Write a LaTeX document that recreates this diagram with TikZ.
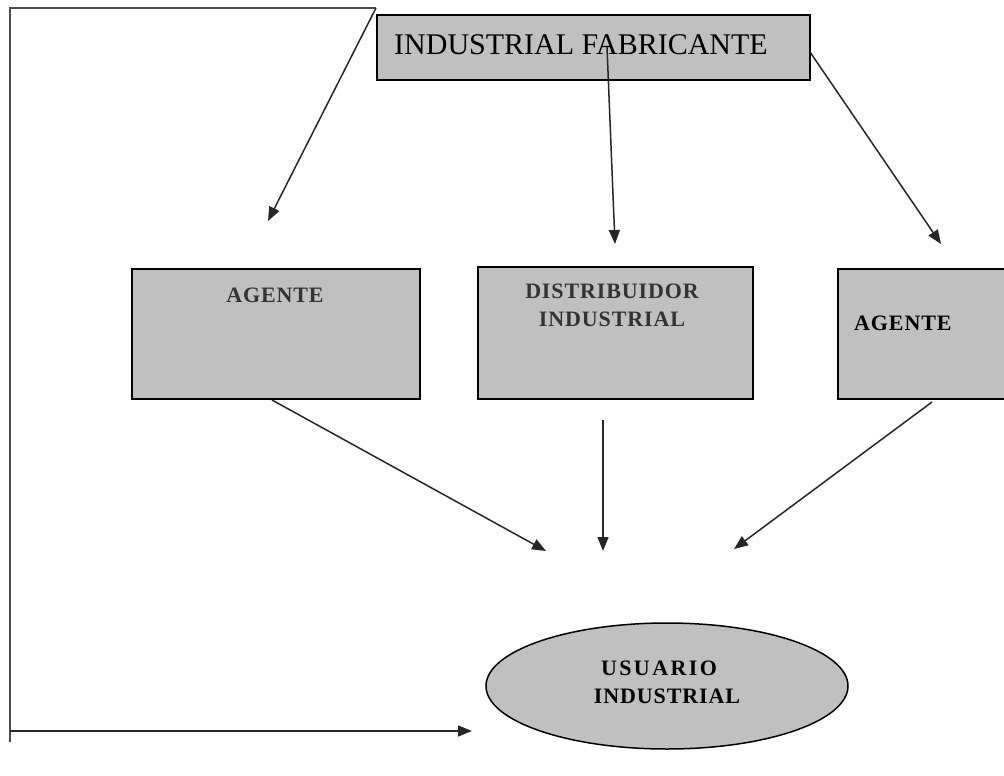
\documentclass[tikz,border=0pt]{standalone}
\usepackage{fontspec}
\setmainfont{Liberation Serif}
\newfontfamily\boxfont[LetterSpace=4]{Liberation Serif}
\newfontfamily\wideboxfont[LetterSpace=11]{Liberation Serif}
\usetikzlibrary{arrows.meta,shapes.geometric}
\definecolor{boxgray}{HTML}{C0C0C0}
\definecolor{inkgray}{HTML}{333333}
\tikzset{
  block/.style={draw=black, line width=1.5pt, fill=boxgray, rectangle, inner sep=0pt},
  blocktext/.style={font=\boxfont\bfseries\fontsize{22}{28}\selectfont, align=center, inner sep=0pt},
  flow/.style={draw=black!85, line width=1.5pt, -{Triangle[length=14pt,width=11pt]}},
  frame/.style={draw=black!70, line width=1.7pt}
}
\begin{document}
\begin{tikzpicture}[x=1pt,y=-1pt]
\useasboundingbox (0,0) rectangle (1004,776);
\clip (0,0) rectangle (1004,776);

% boxes
\node[block, minimum width=433pt, minimum height=65pt] (fab) at (593.5,47.5) {};
\node[anchor=west, inner sep=0pt, font=\fontsize{30}{34}\selectfont] (fabt) at (394,45) {INDUSTRIAL FABRICANTE};

\node[block, minimum width=288pt, minimum height=130pt] (agl) at (276,334) {};
\node[blocktext, text=inkgray] (aglt) at (275,295) {AGENTE};

\node[block, minimum width=275pt, minimum height=132pt] (dist) at (615.5,333) {};
\node[blocktext, text=inkgray] (distt) at (612,305) {DISTRIBUIDOR\\INDUSTRIAL};

\node[block, minimum width=176pt, minimum height=130pt] (agr) at (926,334) {};
\node[blocktext, anchor=west] (agrt) at (854,323) {AGENTE};

\node[block, ellipse, minimum width=362pt, minimum height=126pt] (usr) at (667,686) {};
\node[blocktext] (usrt) at (667,682) {{\wideboxfont\bfseries USUARIO}\hspace*{16pt}\\INDUSTRIAL};

% free ends of the connectors
\coordinate (corner) at (376,8);
\coordinate (tl) at (10,8);
\coordinate (bl) at (10,742);
\coordinate (hl) at (10,731);
\coordinate (hr) at (472,731);
\coordinate (aAgl) at (268,221);
\coordinate (sDist) at (607,47);
\coordinate (aDist) at (615,244);
\coordinate (sAgr) at (810,52);
\coordinate (aAgr) at (941,244);
\coordinate (sL) at (272,400);
\coordinate (eL) at (546,551);
\coordinate (sM) at (603,420);
\coordinate (eM) at (603,551);
\coordinate (sR) at (932,402);
\coordinate (eR) at (734,549);

% outer return path
\draw[frame] (corner) -- (tl) -- (bl);
\draw[flow] (hl) -- (hr);

% top-level arrows
\draw[flow] (corner) -- (aAgl);
\draw[flow] (sDist) -- (aDist);
\draw[flow] (sAgr) -- (aAgr);

% arrows to the user
\draw[flow] (sL) -- (eL);
\draw[flow] (sM) -- (eM);
\draw[flow] (sR) -- (eR);
\end{tikzpicture}
\end{document}
